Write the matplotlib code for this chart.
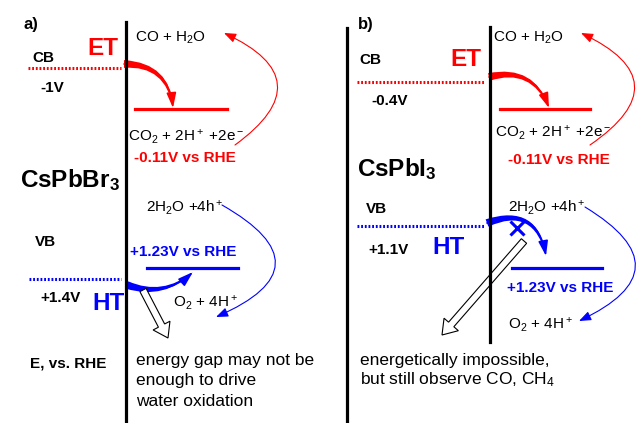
import matplotlib
matplotlib.use("Agg")
import matplotlib.pyplot as plt
from matplotlib.patches import FancyArrowPatch

plt.rcParams['font.family'] = ['Liberation Sans', 'DejaVu Sans']
plt.rcParams['mathtext.fontset'] = 'custom'
plt.rcParams['mathtext.rm'] = 'Liberation Sans'
plt.rcParams['mathtext.it'] = 'Liberation Sans:italic'
plt.rcParams['mathtext.bf'] = 'Liberation Sans:bold'

RED = '#ff0000'
BLUE = '#0000ff'

# panel data
panels = ['a)', 'b)']
materials = [r'CsPbBr$_\mathbf{3}$', r'CsPbI$_\mathbf{3}$']
cb_labels = ['-1V', '-0.4V']
vb_labels = ['+1.4V', '+1.1V']
co2_level = '-0.11V vs RHE'
o2_level = '+1.23V vs RHE'
notes = [['energy gap may not be', 'enough to drive', 'water oxidation'],
         ['energetically impossible,', r'but still observe CO, CH$_4$']]

fig = plt.figure(figsize=(6.38, 4.23), dpi=100)
ax = fig.add_axes([0, 0, 1, 1])
ax.set_xlim(0, 638)
ax.set_ylim(423, 0)
ax.axis('off')


def txt(x, y, s, size=11, color='black', bold=False):
    ax.text(x, y, s, fontsize=size, color=color, ha='left', va='baseline',
            fontweight='bold' if bold else 'normal')


def arrow(p0, p1, rad, color, lw, style, ms):
    ax.add_patch(FancyArrowPatch(p0, p1, connectionstyle=f'arc3,rad={rad}',
                                 arrowstyle=style, color=color, lw=lw,
                                 mutation_scale=ms, shrinkA=0, shrinkB=0))


def transfer(p0, p1, rad, color):
    # tapered body plus a small barb at the tip
    arrow(p0, p1, rad, color, 0, 'wedge,tail_width=0.4,shrink_factor=0.5', 14)
    arrow(p0, p1, rad, color, 1.2, '-|>,head_length=0.5,head_width=0.16', 18)


def dotted(x0, x1, y, color):
    ax.plot([x0, x1], [y, y], color=color, lw=2.2, dashes=(0.6, 0.6),
            solid_capstyle='butt')


thin = '-|>,head_length=0.9,head_width=0.35'

# ---- panel a ----
txt(23, 29, panels[0], size=12, bold=True)
ax.plot([126, 126], [22, 423], color='black', lw=2.3)
txt(135, 41.5, r'CO + H$_2$O')
txt(87, 55, 'ET', size=17.5, color=RED, bold=True)
txt(32, 62.5, 'CB', bold=True)
dotted(28, 121, 68, RED)
txt(40, 92.5, cb_labels[0], bold=True)
transfer((124, 64), (173, 108), -0.45, RED)
ax.plot([135, 227], [109, 109], color=RED, lw=2.3)
txt(128, 141.5, r'CO$_2$ + 2H$^+$ +2e$^-$')
txt(134, 161.5, co2_level, color=RED, bold=True)
arrow((235, 145), (224, 33), 0.85, RED, 0.8, thin, 8)
txt(20, 187.5, materials[0], size=17.5, bold=True)
txt(146, 212.5, r'2H$_2$O +4h$^+$')
arrow((222, 205), (216, 317), -1.0, BLUE, 0.8, thin, 8)
txt(35, 246.5, 'VB', bold=True)
txt(130, 256.5, o2_level, color=BLUE, bold=True)
ax.plot([147, 238], [268, 268], color=BLUE, lw=2.3)
dotted(29, 121, 279, BLUE)
transfer((127, 285), (193, 272), 0.3, BLUE)
txt(40, 302.5, vb_labels[0], bold=True)
txt(92, 310.5, 'HT', size=17.5, color=BLUE, bold=True)
txt(173, 307, r'O$_2$ + 4H$^+$')
ax.arrow(143, 290, 25, 48, width=7, head_width=19, head_length=14,
         length_includes_head=True, fc='white', ec='black', lw=0.8)
txt(30, 367, 'E, vs. RHE', bold=True)
for i, line in enumerate(notes[0]):
    txt(136, 365.5 + 20 * i, line, size=12.5)

# ---- panel b ----
txt(358, 29, panels[1], size=12, bold=True)
ax.plot([347, 347], [28, 423], color='black', lw=2.3)
ax.plot([490, 490], [27, 342], color='black', lw=2.3)
txt(493, 41.5, r'CO + H$_2$O')
txt(359, 64, 'CB', bold=True)
txt(450, 66, 'ET', size=17.5, color=RED, bold=True)
dotted(357, 485, 82, RED)
txt(371, 105, cb_labels[1], bold=True)
transfer((489, 77), (549, 108), -0.45, RED)
ax.plot([500, 590], [109, 109], color=RED, lw=2.3)
txt(495, 137.5, r'CO$_2$ + 2H$^+$ +2e$^-$')
arrow((590, 145), (581, 33), 0.87, RED, 0.8, thin, 8)
txt(508, 164, co2_level, color=RED, bold=True)
txt(357, 176.5, materials[1], size=17.5, bold=True)
txt(366, 213, 'VB', bold=True)
txt(508, 212.5, r'2H$_2$O +4h$^+$')
dotted(357, 485, 226, BLUE)
transfer((487, 223), (546, 256), -0.6, BLUE)
ax.plot([517], [228], marker='x', color=BLUE, ms=10, mew=2.2)
txt(368, 254, vb_labels[1], bold=True)
txt(432, 254.5, 'HT', size=17.5, color=BLUE, bold=True)
ax.plot([512, 602], [268, 268], color=BLUE, lw=2.3)
txt(507, 292.5, o2_level, color=BLUE, bold=True)
arrow((585, 207), (579, 321), -0.93, BLUE, 0.8, thin, 8)
txt(508, 329, r'O$_2$ + 4H$^+$')
ax.arrow(524, 241, -82, 94, width=7, head_width=19, head_length=14,
         length_includes_head=True, fc='white', ec='black', lw=0.8)
for i, line in enumerate(notes[1]):
    txt(360, 365.5 + 19 * i, line, size=12.5)

fig.savefig('out.png', dpi=100)
